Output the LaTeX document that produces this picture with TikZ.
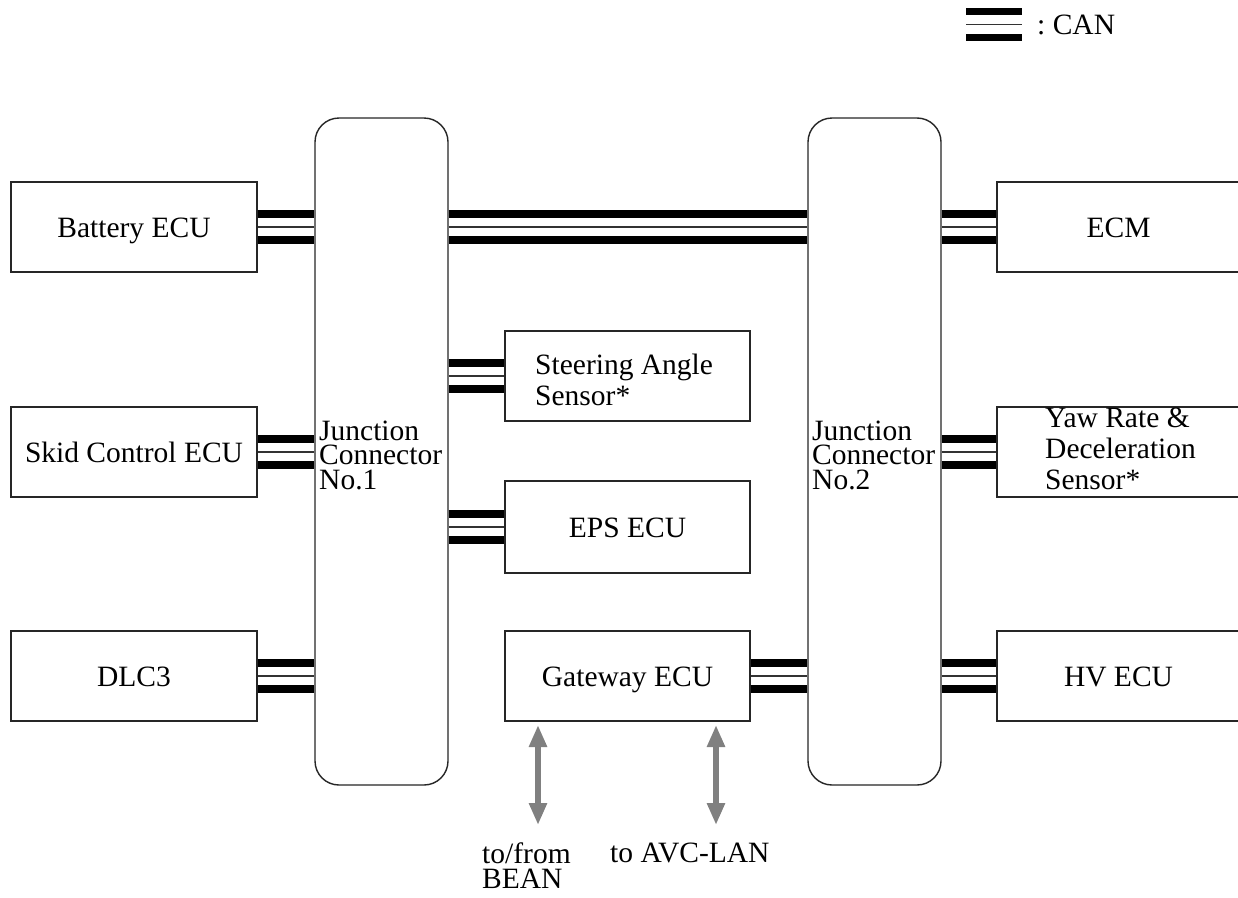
\documentclass[tikz,border=0pt]{standalone}
\usepackage{fontspec}
\setmainfont{Liberation Serif}
\usetikzlibrary{arrows.meta}
\newcommand\diafont{\fontsize{29.5}{31}\selectfont}
\newcommand\tightfont{\fontsize{29.5}{24.5}\selectfont}
\newcommand\canlink[2]{%
  \draw[canthick, transform canvas={yshift=13pt}] (#1) -- (#2);
  \draw[canthin] (#1) -- (#2);
  \draw[canthick, transform canvas={yshift=-13pt}] (#1) -- (#2);}
\begin{document}
\begin{tikzpicture}[x=1pt,y=-1pt,
  box/.style={draw=black!85, line width=1.4pt, fill=white, inner sep=0pt, font=\diafont,
    minimum width=246pt, minimum height=90pt, text height=20pt, text depth=0pt},
  rbox/.style={box, minimum width=243pt},
  jc/.style={draw=black!85, line width=1.4pt, fill=white, rounded corners=24pt,
    minimum width=133pt, minimum height=667pt, inner sep=0pt},
  lbl/.style={font=\diafont, inner sep=0pt, align=left},
  canthick/.style={line width=7.5pt, black},
  canthin/.style={line width=1.5pt, black!80},
  dblarrow/.style={line width=6pt, black!50,
    {Triangle[width=17pt,length=22pt]}-{Triangle[width=17pt,length=22pt]}}
]
\useasboundingbox (0,0) rectangle (1238,897);

% junction connectors
\node[jc] (jc1) at (381.5,451.5) {};
\node[jc] (jc2) at (874.5,451.5) {};
\node[lbl, anchor=west, font=\tightfont] (jc1t) at (319,455) {Junction\\Connector\\No.1};
\node[lbl, anchor=west, font=\tightfont] (jc2t) at (812,455) {Junction\\Connector\\No.2};

% left ECUs
\node[box] (batt) at (134,227) {Battery ECU};
\node[box] (skid) at (134,452) {Skid Control ECU};
\node[box] (dlc)  at (134,676) {DLC3};

% middle
\node[box, minimum width=245pt] (sas) at (627.5,376) {};
\node[lbl, anchor=west] (sast) at (535,380) {Steering Angle\\Sensor*};
\node[box, minimum width=245pt, minimum height=92pt] (eps) at (627.5,527) {EPS ECU};
\node[box, minimum width=245pt] (gw) at (627.5,676) {Gateway ECU};

% right ECUs
\node[rbox] (ecm) at (1118.5,227) {ECM};
\node[rbox] (yaw) at (1118.5,452) {};
\node[lbl, anchor=west] (yawt) at (1045,449) {Yaw Rate \&\\Deceleration\\Sensor*};
\node[rbox] (hv)  at (1118.5,676) {HV ECU};

% CAN links
\canlink{batt.east}{batt.east -| jc1.west}
\canlink{skid.east}{skid.east -| jc1.west}
\canlink{dlc.east}{dlc.east -| jc1.west}
\canlink{batt.east -| jc1.east}{batt.east -| jc2.west}
\canlink{sas.west -| jc1.east}{sas.west}
\canlink{eps.west -| jc1.east}{eps.west}
\canlink{gw.east}{gw.east -| jc2.west}
\canlink{ecm.west -| jc2.east}{ecm.west}
\canlink{yaw.west -| jc2.east}{yaw.west}
\canlink{hv.west -| jc2.east}{hv.west}

% gateway arrows
\coordinate (bean1) at (538,725);
\coordinate (bean2) at (538,825);
\coordinate (avc1) at (716,725);
\coordinate (avc2) at (716,825);
\draw[dblarrow] (bean1) -- (bean2);
\draw[dblarrow] (avc1) -- (avc2);
\node[lbl, anchor=north west, font=\tightfont] (beant) at (482,843) {to/from\\BEAN};
\node[lbl, anchor=base west] (avct) at (610,862) {to AVC-LAN};

% legend
\coordinate (leg1) at (966,24.5);
\coordinate (leg2) at (1022,24.5);
\canlink{leg1}{leg2}
\node[lbl, anchor=base west] (legt) at (1037,34) {:\ CAN};
\end{tikzpicture}
\end{document}
